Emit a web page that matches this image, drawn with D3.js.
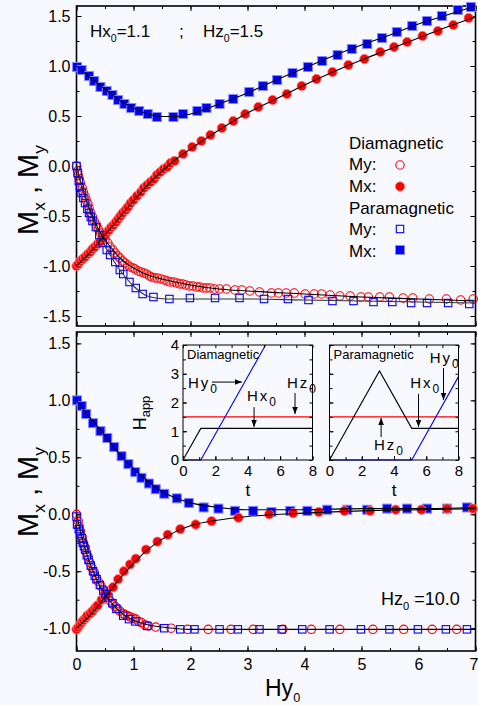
<!DOCTYPE html>
<html><head><meta charset="utf-8">
<script src="https://cdn.jsdelivr.net/npm/d3@7"></script>
<style>body{margin:0;background:#f8f8ff;} svg{display:block;}</style>
</head><body><svg id="c" width="478" height="705"></svg>
<script>
// ---------------- DATA ----------------
const xTicks = [0,1,2,3,4,5,6,7];
const topYTicks = [-1.5,-1.0,-0.5,0.0,0.5,1.0,1.5];
const botYTicks = [-1.0,-0.5,0.0,0.5,1.0,1.5];
const insetXTicks = [0,2,4,6,8];
const insetYTicks = [0,1,2,3,4];

// Top panel (Hx0=1.1 ; Hz0=1.5)
const topParaMx = [[0.01,0.99],[0.09,0.96],[0.22,0.90],[0.31,0.85],[0.42,0.79],[0.53,0.75],[0.63,0.71],[0.73,0.66],[0.84,0.62],[0.96,0.58],[1.10,0.55],[1.25,0.52],[1.41,0.49],[1.70,0.49],[1.87,0.52],[2.12,0.55],[2.28,0.58],[2.51,0.62],[2.75,0.67],[3.03,0.74],[3.27,0.80],[3.52,0.86],[3.79,0.93],[4.06,0.99],[4.31,1.05],[4.58,1.11],[4.83,1.17],[5.10,1.22],[5.36,1.28],[5.62,1.34],[5.89,1.40],[6.15,1.45],[6.41,1.50],[6.69,1.56],[6.92,1.59]];
const topDiaMx = [[0.0,-1.0],[0.03,-0.98],[0.07,-0.95],[0.11,-0.93],[0.15,-0.91],[0.20,-0.88],[0.24,-0.86],[0.28,-0.83],[0.32,-0.81],[0.37,-0.78],[0.41,-0.76],[0.46,-0.72],[0.50,-0.69],[0.54,-0.66],[0.57,-0.64],[0.61,-0.61],[0.65,-0.59],[0.69,-0.56],[0.73,-0.53],[0.77,-0.50],[0.81,-0.47],[0.86,-0.44],[0.90,-0.41],[0.95,-0.37],[1.00,-0.34],[1.06,-0.30],[1.13,-0.26],[1.18,-0.22],[1.24,-0.19],[1.30,-0.16],[1.36,-0.13],[1.41,-0.09],[1.47,-0.06],[1.53,-0.03],[1.59,-0.01],[1.65,0.03],[1.72,0.05],[1.87,0.12],[2.03,0.19],[2.19,0.25],[2.35,0.31],[2.55,0.38],[2.75,0.45],[2.96,0.52],[3.19,0.59],[3.44,0.66],[3.69,0.72],[3.95,0.80],[4.21,0.87],[4.49,0.94],[4.77,1.01],[5.05,1.07],[5.33,1.14],[5.57,1.19],[5.80,1.24],[6.07,1.30],[6.34,1.35],[6.61,1.41],[6.88,1.48]];
const topDiaMy = [[0,0],[0.02,-0.05],[0.03,-0.09],[0.05,-0.13],[0.07,-0.17],[0.10,-0.22],[0.12,-0.26],[0.15,-0.30],[0.17,-0.34],[0.20,-0.38],[0.22,-0.42],[0.25,-0.47],[0.28,-0.51],[0.31,-0.55],[0.35,-0.59],[0.38,-0.63],[0.42,-0.67],[0.46,-0.70],[0.50,-0.73],[0.55,-0.77],[0.59,-0.81],[0.64,-0.84],[0.68,-0.87],[0.72,-0.90],[0.76,-0.92],[0.81,-0.95],[0.85,-0.97],[0.90,-0.99],[0.94,-1.01],[0.99,-1.02],[1.03,-1.03],[1.08,-1.05],[1.13,-1.06],[1.18,-1.07],[1.23,-1.08],[1.28,-1.10],[1.32,-1.11],[1.37,-1.12],[1.42,-1.12],[1.48,-1.13],[1.54,-1.14],[1.59,-1.15],[1.64,-1.16],[1.70,-1.16],[1.76,-1.17],[1.81,-1.18],[1.86,-1.18],[1.92,-1.19],[1.98,-1.20],[2.04,-1.20],[2.11,-1.21],[2.16,-1.21],[2.22,-1.22],[2.28,-1.22],[2.34,-1.22],[2.42,-1.23],[2.51,-1.23],[2.63,-1.23],[2.78,-1.24],[2.90,-1.24],[3.04,-1.25],[3.21,-1.26],[3.42,-1.27],[3.54,-1.27],[3.68,-1.27],[3.82,-1.27],[4.01,-1.28],[4.17,-1.28],[4.30,-1.28],[4.45,-1.29],[4.62,-1.30],[4.80,-1.30],[4.99,-1.31],[5.12,-1.31],[5.32,-1.31],[5.49,-1.31],[5.73,-1.32],[5.90,-1.32],[6.19,-1.33],[6.49,-1.33],[6.74,-1.34],[6.96,-1.33]];
const topParaMy = [[0,0],[0.02,-0.07],[0.04,-0.15],[0.06,-0.21],[0.09,-0.27],[0.12,-0.32],[0.15,-0.37],[0.19,-0.43],[0.22,-0.47],[0.25,-0.51],[0.28,-0.55],[0.34,-0.61],[0.40,-0.69],[0.46,-0.77],[0.53,-0.84],[0.59,-0.89],[0.68,-0.96],[0.76,-1.04],[0.82,-1.08],[0.93,-1.16],[1.04,-1.22],[1.16,-1.28],[1.35,-1.31],[1.63,-1.33],[1.99,-1.32],[2.43,-1.32],[2.86,-1.32],[3.29,-1.33],[3.71,-1.33],[4.07,-1.34],[4.49,-1.35],[4.86,-1.35],[5.21,-1.36],[5.54,-1.36],[5.87,-1.37],[6.15,-1.37],[6.52,-1.37],[6.89,-1.38]];
const topParaMxFit = [[0,1.0],[0.25,0.88],[0.5,0.77],[0.75,0.66],[1.0,0.58],[1.25,0.52],[1.5,0.495],[1.75,0.495],[2.0,0.52],[2.5,0.62],[3.0,0.73],[3.5,0.86],[4.0,0.98],[4.5,1.10],[5.0,1.21],[5.5,1.31],[6.0,1.42],[6.5,1.51],[7.0,1.60]];
const topDiaMxFit = [[0,-1.0],[0.25,-0.86],[0.5,-0.69],[0.75,-0.52],[1.0,-0.35],[1.25,-0.19],[1.5,-0.05],[1.75,0.07],[2.0,0.17],[2.5,0.36],[3.0,0.53],[3.5,0.67],[4.0,0.81],[4.5,0.94],[5.0,1.06],[5.5,1.17],[6.0,1.28],[6.5,1.39],[7.0,1.49]];
const topDiaMyFit = [[0,0],[0.1,-0.22],[0.2,-0.39],[0.3,-0.53],[0.4,-0.65],[0.5,-0.74],[0.6,-0.81],[0.7,-0.88],[0.8,-0.94],[1.0,-1.02],[1.25,-1.09],[1.5,-1.13],[2.0,-1.19],[2.5,-1.23],[3.0,-1.25],[4.0,-1.28],[5.0,-1.31],[6.0,-1.33],[7.0,-1.35]];
const topParaMyFit = [[0,0],[0.1,-0.22],[0.2,-0.40],[0.3,-0.56],[0.4,-0.69],[0.5,-0.80],[0.6,-0.90],[0.7,-0.99],[0.8,-1.07],[0.9,-1.14],[1.0,-1.20],[1.1,-1.25],[1.2,-1.29],[1.4,-1.32],[1.6,-1.33],[2.0,-1.33],[3.0,-1.33],[4.0,-1.34],[5.0,-1.35],[6.0,-1.36],[7.0,-1.37]];

// Bottom panel (Hz0=10.0)
const botParaMx = [[0.01,1.00],[0.09,0.95],[0.17,0.88],[0.29,0.80],[0.42,0.73],[0.54,0.67],[0.66,0.59],[0.79,0.51],[0.91,0.44],[1.03,0.37],[1.14,0.32],[1.27,0.27],[1.39,0.22],[1.54,0.18],[1.76,0.14],[1.97,0.10],[2.23,0.06],[2.49,0.05],[2.78,0.03],[3.10,0.03],[3.42,0.02],[3.75,0.03],[4.05,0.03],[4.40,0.04],[4.75,0.04],[5.10,0.04],[5.45,0.05],[5.80,0.05],[6.15,0.05],[6.50,0.05],[6.85,0.06]];
const botDiaMx = [[0,-1.01],[0.03,-0.99],[0.06,-0.97],[0.09,-0.95],[0.12,-0.93],[0.16,-0.91],[0.19,-0.89],[0.24,-0.87],[0.28,-0.85],[0.33,-0.82],[0.37,-0.80],[0.44,-0.75],[0.50,-0.72],[0.54,-0.69],[0.64,-0.64],[0.73,-0.57],[0.83,-0.50],[0.94,-0.44],[1.04,-0.39],[1.22,-0.31],[1.42,-0.24],[1.60,-0.18],[1.82,-0.13],[2.09,-0.09],[2.37,-0.06],[2.84,-0.03],[3.38,0.00],[3.80,0.01],[4.25,0.02],[4.70,0.03],[5.15,0.03],[5.60,0.04],[6.05,0.04],[6.50,0.05],[6.95,0.05]];
const botParaMy = [[0,-0.02],[0.01,-0.09],[0.04,-0.13],[0.06,-0.17],[0.09,-0.21],[0.11,-0.25],[0.13,-0.28],[0.15,-0.31],[0.18,-0.36],[0.21,-0.40],[0.25,-0.45],[0.29,-0.50],[0.32,-0.54],[0.35,-0.57],[0.41,-0.62],[0.47,-0.67],[0.51,-0.70],[0.56,-0.73],[0.63,-0.78],[0.70,-0.83],[0.82,-0.89],[0.92,-0.92],[1.03,-0.94],[1.24,-0.98],[1.54,-1.00],[1.82,-1.01],[2.07,-1.01],[2.51,-1.01],[2.83,-1.01],[3.21,-1.01],[3.60,-1.01],[3.96,-1.01],[4.44,-1.01],[4.99,-1.01],[5.49,-1.01],[5.99,-1.01],[6.48,-1.01],[6.85,-1.01]];
const botDiaMy = [[0,0],[0.03,-0.06],[0.05,-0.11],[0.07,-0.15],[0.10,-0.20],[0.12,-0.25],[0.15,-0.29],[0.17,-0.33],[0.20,-0.37],[0.23,-0.42],[0.27,-0.47],[0.31,-0.51],[0.35,-0.56],[0.38,-0.59],[0.43,-0.63],[0.47,-0.66],[0.52,-0.71],[0.59,-0.76],[0.64,-0.79],[0.68,-0.81],[0.72,-0.83],[0.76,-0.85],[0.81,-0.87],[0.85,-0.88],[0.90,-0.89],[0.94,-0.90],[0.99,-0.91],[1.04,-0.92],[1.09,-0.94],[1.14,-0.95],[1.20,-0.97],[1.26,-0.98],[1.39,-0.99],[1.66,-1.00],[1.95,-1.01],[2.31,-1.01],[2.71,-1.01],[3.10,-1.01],[3.62,-1.01],[4.12,-1.01],[4.62,-1.01],[5.20,-1.01],[5.74,-1.01],[6.24,-1.01],[6.67,-1.01]];
const botParaMxFit = [[0,1.0],[0.25,0.84],[0.5,0.69],[0.75,0.53],[1.0,0.40],[1.25,0.29],[1.5,0.20],[1.75,0.14],[2.0,0.10],[2.5,0.06],[3.0,0.04],[4.0,0.04],[5.0,0.05],[6.0,0.05],[7.0,0.06]];
const botDiaMxFit = [[0,-1.0],[0.25,-0.88],[0.5,-0.73],[0.75,-0.57],[1.0,-0.43],[1.25,-0.31],[1.5,-0.22],[1.75,-0.15],[2.0,-0.10],[2.5,-0.05],[3.0,-0.02],[4.0,0.01],[5.0,0.03],[6.0,0.04],[7.0,0.05]];
const botMyFit = [[0,0],[0.1,-0.21],[0.2,-0.38],[0.3,-0.51],[0.4,-0.62],[0.5,-0.70],[0.6,-0.77],[0.75,-0.85],[1.0,-0.93],[1.25,-0.97],[1.5,-0.99],[2.0,-1.01],[3.0,-1.01],[7.0,-1.01]];

// Insets (applied field vs time)
const diaInsetHx = [[0,0],[1.1,1.1],[8,1.1]];
const diaInsetHy = [[0,0],[1.1,0],[5.1,4]];
const paraInsetHx = [[0,0],[3.1,3.1],[5.1,1.1],[8,1.1]];
const paraInsetHy = [[0,0],[5.1,0],[8,2.9]];
const insetHz = [[0,1.5],[8,1.5]];

// ---------------- DRAW ----------------
const FONT = "'Liberation Sans', Arial, Helvetica, sans-serif";
const BLUE = "#0000ff", RED = "#ff0000";
const svg = d3.select("#c");
svg.append("rect").attr("width",478).attr("height",705).attr("fill","#f8f8ff");

const defs = svg.append("defs");
defs.append("marker").attr("id","arr").attr("viewBox","0 0 10 10").attr("refX",10).attr("refY",5)
  .attr("markerWidth",7).attr("markerHeight",7).attr("markerUnits","userSpaceOnUse").attr("orient","auto")
  .append("path").attr("d","M0,1 L10,5 L0,9 Z").attr("fill","#000");

function rich(sel, x, y, parts, size, opts = {}) {
  const t = sel.append("text").attr("x", x).attr("y", y).attr("font-size", size)
    .attr("font-family", FONT).attr("fill", "#000");
  if (opts.anchor) t.attr("text-anchor", opts.anchor);
  if (opts.transform) t.attr("transform", opts.transform);
  if (opts.ls) t.attr("letter-spacing", opts.ls);
  const subDy = opts.subDy !== undefined ? opts.subDy : size * 0.3;
  let shifted = 0;
  parts.forEach(p => {
    const s = Array.isArray(p) ? p[0] : p, sub = Array.isArray(p) && p[1];
    const sp = t.append("tspan").text(s);
    if (sub) { sp.attr("font-size", size * (opts.subScale || 0.62)).attr("dy", subDy - shifted); shifted = subDy; }
    else if (shifted) { sp.attr("dy", -shifted); shifted = 0; }
  });
  return t;
}

const x = d3.scaleLinear().domain([0, 7]).range([76.5, 475.5]);
const yTop = d3.scaleLinear().domain([-1.6, 1.6]).range([326, 6]);
const yBot = d3.scaleLinear().domain([-1.2, 1.6]).range([651, 332]);

function minorVals(lo, hi, step) { const v = []; for (let a = lo; a <= hi + 1e-9; a += step) v.push(+a.toFixed(4)); return v; }

function panel(y, yTicks, showX) {
  const g = svg.append("g");
  const [x0, x1] = x.range(), [yb, yt] = y.range();
  const fmt = d => d.toFixed(1);
  const yMinor = minorVals(Math.ceil(y.domain()[0] / 0.25) * 0.25, y.domain()[1], 0.25);
  // left axis
  g.append("g").attr("transform", `translate(${x0},0)`)
    .call(d3.axisLeft(y).tickValues(yMinor).tickSize(-3).tickFormat(""))
    .call(a => a.select(".domain").remove());
  g.append("g").attr("transform", `translate(${x0},0)`)
    .call(d3.axisLeft(y).tickValues(yTicks).tickSize(-5).tickPadding(6).tickFormat(fmt))
    .call(a => { a.select(".domain").remove(); a.selectAll("text").attr("font-size", 16).attr("font-family", FONT).attr("fill", "#000"); });
  // right axis
  g.append("g").attr("transform", `translate(${x1},0)`)
    .call(d3.axisRight(y).tickValues(yMinor).tickSize(-3).tickFormat(""))
    .call(a => a.select(".domain").remove());
  g.append("g").attr("transform", `translate(${x1},0)`)
    .call(d3.axisRight(y).tickValues(yTicks).tickSize(-5).tickFormat(""))
    .call(a => a.select(".domain").remove());
  // bottom/top x axes
  const xMinor = minorVals(0, 7, 0.5);
  [[yb, d3.axisBottom], [yt, d3.axisTop]].forEach(([pos, ax], i) => {
    g.append("g").attr("transform", `translate(0,${pos})`)
      .call(ax(x).tickValues(xMinor).tickSize(-3).tickFormat(""))
      .call(a => a.select(".domain").remove());
    g.append("g").attr("transform", `translate(0,${pos})`)
      .call(ax(x).tickValues(xTicks).tickSize(-5).tickPadding(8).tickFormat(i === 0 && showX ? d3.format("d") : ""))
      .call(a => {
        a.select(".domain").remove();
        a.selectAll("text").attr("font-size", 16).attr("font-family", FONT).attr("fill", "#000")
          .attr("dx", d => d === 7 ? -2 : 0);
      });
  });
  g.selectAll(".tick line").attr("stroke", "#000").attr("stroke-width", 1);
  g.append("rect").attr("x", x0).attr("y", yt).attr("width", x1 - x0).attr("height", yb - yt)
    .attr("fill", "none").attr("stroke", "#000").attr("stroke-width", 1.6);
  return g;
}

function markers(g, y, data, type) {
  const sel = g.append("g");
  if (type === "fsq") sel.selectAll("rect").data(data).join("rect")
    .attr("x", d => x(d[0]) - 4.5).attr("y", d => y(d[1]) - 4.5).attr("width", 9).attr("height", 9)
    .attr("fill", BLUE).attr("stroke", "#8a8aff").attr("stroke-width", 1);
  if (type === "osq") sel.selectAll("rect").data(data).join("rect")
    .attr("x", d => x(d[0]) - 3.7).attr("y", d => y(d[1]) - 3.7).attr("width", 7.4).attr("height", 7.4)
    .attr("fill", "none").attr("stroke", BLUE).attr("stroke-width", 1.1);
  if (type === "fci") sel.selectAll("circle").data(data).join("circle")
    .attr("cx", d => x(d[0])).attr("cy", d => y(d[1])).attr("r", 4.7)
    .attr("fill", RED).attr("stroke", "#ff8a8a").attr("stroke-width", 0.8);
  if (type === "oci") sel.selectAll("circle").data(data).join("circle")
    .attr("cx", d => x(d[0])).attr("cy", d => y(d[1])).attr("r", 4.2)
    .attr("fill", "none").attr("stroke", RED).attr("stroke-width", 1.1);
}
function fit(g, y, data, color) {
  g.append("path").datum(data).attr("fill", "none").attr("stroke", color || "#000").attr("stroke-width", 1.1)
    .attr("d", d3.line().x(d => x(d[0])).y(d => y(d[1])).curve(d3.curveMonotoneX));
}

// ---- top panel
const gt = panel(yTop, topYTicks, false);
const ct = gt.append("g");
markers(ct, yTop, topParaMx, "fsq");
markers(ct, yTop, topDiaMx, "fci");
markers(ct, yTop, topDiaMy, "oci");
markers(ct, yTop, topParaMy, "osq");
fit(ct, yTop, topParaMxFit);
fit(ct, yTop, topDiaMxFit);
fit(ct, yTop, topDiaMyFit);
fit(ct, yTop, topParaMyFit, "#333");

rich(svg, 90, 37, ["Hx", ["0", true], "=1.1"], 17, { subDy: 5 });
rich(svg, 179, 37, [";"], 17);
rich(svg, 203, 37, ["Hz", ["0", true], "=1.5"], 17, { subDy: 5 });

// legend
const lg = svg.append("g");
rich(lg, 349, 149, ["Diamagnetic"], 17);
rich(lg, 349, 170, ["My:"], 17);
rich(lg, 349, 192, ["Mx:"], 17);
rich(lg, 349, 214, ["Paramagnetic"], 17);
rich(lg, 349, 235, ["My:"], 17);
rich(lg, 349, 257, ["Mx:"], 17);
lg.append("circle").attr("cx", 400).attr("cy", 165).attr("r", 4.2).attr("fill", "none").attr("stroke", RED).attr("stroke-width", 1.1);
lg.append("circle").attr("cx", 400).attr("cy", 186.5).attr("r", 4.7).attr("fill", RED).attr("stroke", "#ff8a8a").attr("stroke-width", 0.8);
lg.append("rect").attr("x", 396.3).attr("y", 225.3).attr("width", 7.4).attr("height", 7.4).attr("fill", "none").attr("stroke", BLUE).attr("stroke-width", 1.1);
lg.append("rect").attr("x", 395.5).attr("y", 245.5).attr("width", 9).attr("height", 9).attr("fill", BLUE).attr("stroke", "#8a8aff").attr("stroke-width", 1);

// ---- bottom panel
const gb = panel(yBot, botYTicks, true);
const cb = gb.append("g");
markers(cb, yBot, botParaMx, "fsq");
markers(cb, yBot, botDiaMx, "fci");
markers(cb, yBot, botDiaMy, "oci");
markers(cb, yBot, botParaMy, "osq");
fit(cb, yBot, botParaMxFit);
fit(cb, yBot, botDiaMxFit);
fit(cb, yBot, botMyFit);

rich(svg, 381, 605, ["Hz", ["0", true], " =10.0"], 18, { subDy: 5 });

// axis titles
rich(svg, 0, 0, ["M", ["x", true], " , M", ["y", true]], 29, { anchor: "middle", transform: "translate(38,190) rotate(-90)", subDy: 7, subScale: 0.6 });
rich(svg, 0, 0, ["M", ["x", true], " , M", ["y", true]], 29, { anchor: "middle", transform: "translate(38,492) rotate(-90)", subDy: 7, subScale: 0.6 });
rich(svg, 265, 696, ["Hy", ["0", true]], 23, { subDy: 6, subScale: 0.55 });

// ---- insets
const iy = d3.scaleLinear().domain([0, 4]).range([460, 345]);
function inset(x0, x1, hx, hy, label) {
  const ix = d3.scaleLinear().domain([0, 8]).range([x0, x1]);
  const g = svg.append("g");
  const ln = d3.line().x(d => ix(d[0])).y(d => iy(d[1]));
  g.append("path").datum(insetHz).attr("d", ln).attr("fill", "none").attr("stroke", RED).attr("stroke-width", 1.1);
  g.append("path").datum(hx).attr("d", ln).attr("fill", "none").attr("stroke", "#000").attr("stroke-width", 1.1);
  g.append("path").datum(hy).attr("d", ln).attr("fill", "none").attr("stroke", BLUE).attr("stroke-width", 1.1);
  // axes
  g.append("g").attr("transform", `translate(0,${iy(0)})`)
    .call(d3.axisBottom(ix).tickValues(minorVals(0, 8, 1)).tickSize(-3).tickFormat(""));
  g.append("g").attr("transform", `translate(0,${iy(0)})`)
    .call(d3.axisBottom(ix).tickValues(insetXTicks).tickSize(-4).tickPadding(5).tickFormat(d3.format("d")));
  g.append("g").attr("transform", `translate(0,${iy(4)})`)
    .call(d3.axisTop(ix).tickValues(minorVals(0, 8, 1)).tickSize(-3).tickFormat(""));
  g.append("g").attr("transform", `translate(${x0},0)`)
    .call(d3.axisLeft(iy).tickValues(minorVals(0, 4, 0.5)).tickSize(-3).tickFormat(""));
  g.append("g").attr("transform", `translate(${x0},0)`)
    .call(d3.axisLeft(iy).tickValues(insetYTicks).tickSize(-4).tickPadding(4).tickFormat(label === "Diamagnetic" ? d3.format("d") : ""));
  g.append("g").attr("transform", `translate(${x1},0)`)
    .call(d3.axisRight(iy).tickValues(minorVals(0, 4, 0.5)).tickSize(-3).tickFormat(""));
  g.selectAll(".domain").remove();
  g.selectAll(".tick line").attr("stroke", "#000");
  g.selectAll(".tick text").attr("font-size", 15).attr("font-family", FONT).attr("fill", "#000");
  g.append("rect").attr("x", x0).attr("y", iy(4)).attr("width", x1 - x0).attr("height", iy(0) - iy(4))
    .attr("fill", "none").attr("stroke", "#000").attr("stroke-width", 1);
  rich(g, x0 + 4, iy(4) + 14, [label], 13);
  rich(g, (x0 + x1) / 2, 496, ["t"], 17, { anchor: "middle" });
  return { g, ix };
}
function arrow(g, x1, y1, x2, y2) {
  g.append("line").attr("x1", x1).attr("y1", y1).attr("x2", x2).attr("y2", y2)
    .attr("stroke", "#000").attr("stroke-width", 1).attr("marker-end", "url(#arr)");
}
const L = inset(183, 312.5, diaInsetHx, diaInsetHy, "Diamagnetic");
rich(L.g, L.ix(0.31), iy(2.5), ["Hy", ["0", true]], 15, { subDy: 5, subScale: 0.8, ls: 2 });
arrow(L.g, L.ix(1.79), iy(2.71), L.ix(3.64), iy(2.71));
rich(L.g, L.ix(6.42), iy(2.5), ["Hz", ["0", true]], 15, { subDy: 5, subScale: 0.8, ls: 2 });
arrow(L.g, L.ix(6.92), iy(2.33), L.ix(6.92), iy(1.6));
rich(L.g, L.ix(3.95), iy(2.05), ["Hx", ["0", true]], 15, { subDy: 5, subScale: 0.8, ls: 2 });
arrow(L.g, L.ix(4.39), iy(1.84), L.ix(4.39), iy(1.15));

const R = inset(329.5, 458.5, paraInsetHx, paraInsetHy, "Paramagnetic");
rich(R.g, R.ix(6.21), iy(3.37), ["Hy", ["0", true]], 15, { subDy: 5, subScale: 0.8, ls: 2 });
arrow(R.g, R.ix(7.07), iy(3.2), R.ix(7.07), iy(2.09));
rich(R.g, R.ix(5.0), iy(2.5), ["Hx", ["0", true]], 15, { subDy: 5, subScale: 0.8, ls: 2 });
arrow(R.g, R.ix(5.52), iy(2.3), R.ix(5.52), iy(1.15));
rich(R.g, R.ix(2.76), iy(0.35), ["Hz", ["0", true]], 15, { subDy: 5, subScale: 0.8, ls: 2 });
arrow(R.g, R.ix(3.2), iy(0.8), R.ix(3.2), iy(1.46));

rich(svg, 0, 0, ["H", ["app", true]], 18, { anchor: "middle", transform: "translate(146,413) rotate(-90)", subDy: 4, subScale: 0.72 });
</script></body></html>
